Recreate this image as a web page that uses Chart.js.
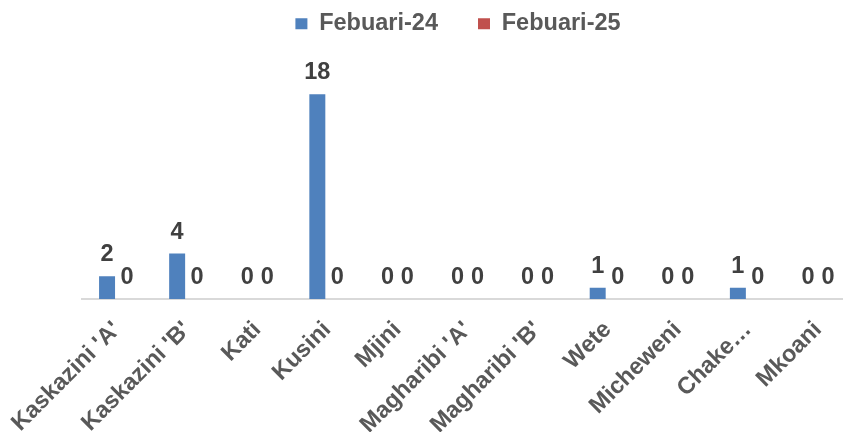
<!DOCTYPE html>
<html>
<head>
<meta charset="utf-8">
<script src="https://cdn.jsdelivr.net/npm/chart.js@4"></script>
<style>
html,body{margin:0;padding:0;overflow:hidden;background:#fff;}
#wrap{position:relative;width:856px;height:432px;}
</style>
</head>
<body>
<div id="wrap"><canvas id="c"></canvas></div>
<script>
const categories = ["Kaskazini 'A'", "Kaskazini 'B'", "Kati", "Kusini", "Mjini", "Magharibi 'A'", "Magharibi 'B'", "Wete", "Micheweni", "Chake…", "Mkoani"];
const feb24 = [2, 4, 0, 18, 0, 0, 0, 1, 0, 1, 0];
const feb25 = [0, 0, 0, 0, 0, 0, 0, 0, 0, 0, 0];
const seriesNames = ["Febuari-24", "Febuari-25"];

const FONT = "'Liberation Sans', Arial, sans-serif";
const FS = 23.5;

const valueLabels = {
  id: 'valueLabels',
  afterDatasetsDraw(chart) {
    const ctx = chart.ctx;
    ctx.save();
    ctx.font = "bold " + FS + "px " + FONT;
    ctx.fillStyle = '#404040';
    ctx.textAlign = 'center';
    ctx.textBaseline = 'alphabetic';
    chart.data.datasets.forEach((ds, i) => {
      const meta = chart.getDatasetMeta(i);
      meta.data.forEach((bar, j) => {
        ctx.fillText(String(ds.data[j]), bar.x, bar.y - 15);
      });
    });
    ctx.restore();
  }
};

const legendSpace = {
  id: 'legendSpace',
  beforeInit(chart) {
    const lg = chart.legend;
    if (!lg) return;
    const fit = lg.fit;
    lg.fit = function () {
      fit.call(this);
      this.height += 26;
    };
  }
};

new Chart(document.getElementById('c'), {
  type: 'bar',
  data: {
    labels: categories,
    datasets: [
      { label: seriesNames[0], data: feb24, backgroundColor: '#4f81bd', categoryPercentage: 0.57, barPercentage: 0.8 },
      { label: seriesNames[1], data: feb25, backgroundColor: '#c0504d', categoryPercentage: 0.57, barPercentage: 0.8 }
    ]
  },
  options: {
    responsive: true,
    maintainAspectRatio: false,
    animation: false,
    layout: { padding: { top: -28, left: 63, right: 3, bottom: 0 } },
    plugins: {
      legend: {
        position: 'top',
        labels: {
          boxWidth: 12,
          boxHeight: 11,
          padding: 40,
          color: '#595959',
          font: { family: FONT, size: FS, weight: 'bold' }
        }
      },
      tooltip: { enabled: false }
    },
    scales: {
      x: {
        grid: { display: false },
        border: { display: true, color: '#d9d9d9', width: 2 },
        ticks: {
          autoSkip: false,
          minRotation: 45,
          maxRotation: 45,
          padding: 9,
          color: '#595959',
          font: { family: FONT, size: FS, weight: 'bold' }
        },
        afterFit(scale) {
          scale.height = 133;
          scale.paddingLeft = 0;
          scale.paddingRight = 0;
        }
      },
      y: {
        min: 0,
        max: 20,
        grid: { display: false },
        border: { display: false },
        ticks: { display: false },
        afterFit(scale) { scale.width = 19; }
      }
    }
  },
  plugins: [valueLabels, legendSpace]
});
</script>
</body>
</html>
